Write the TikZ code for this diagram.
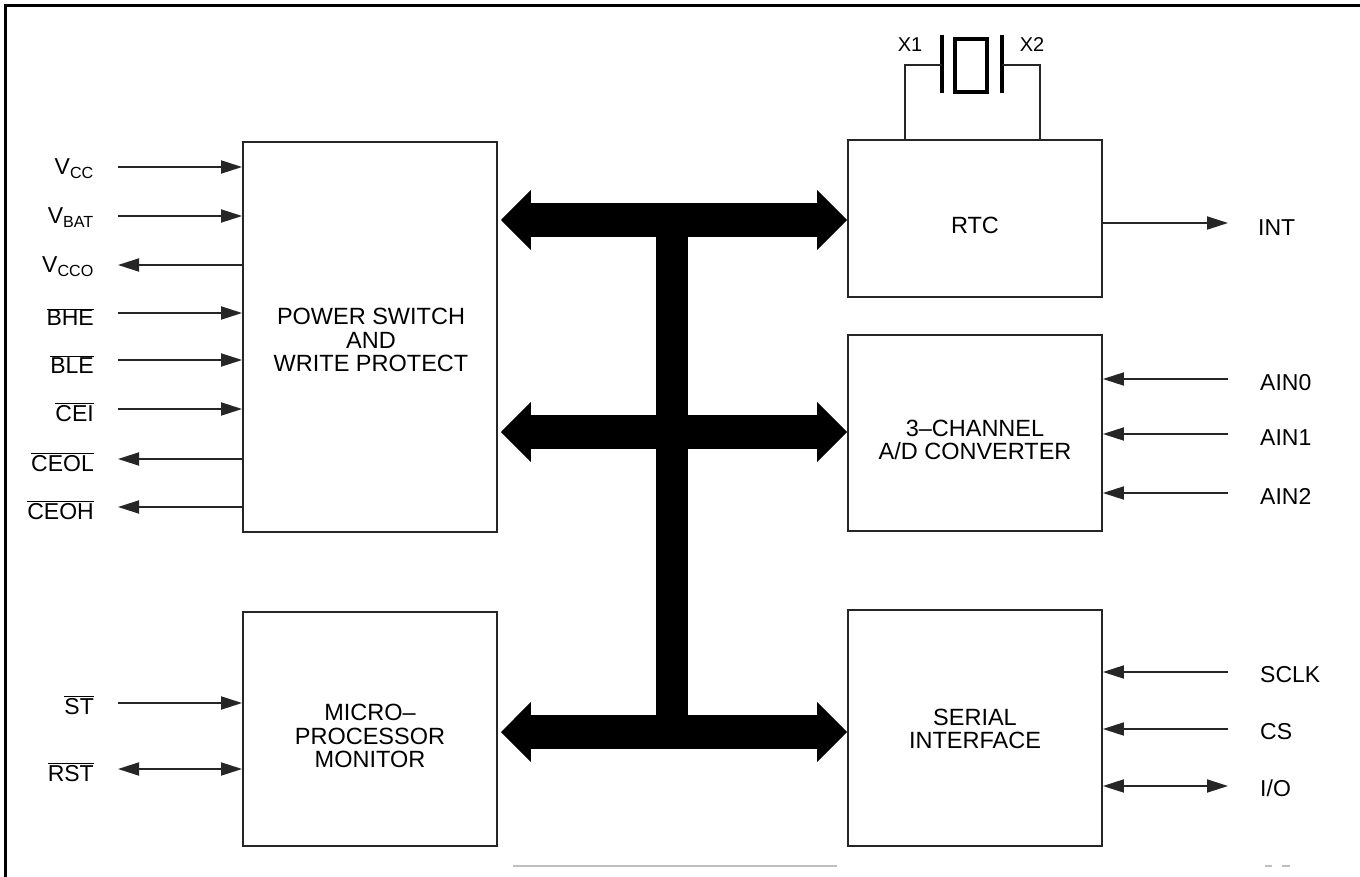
\documentclass[tikz,border=0pt]{standalone}
\usepackage{fontspec}
\setmainfont{Liberation Sans}
\usetikzlibrary{arrows.meta}
\tikzset{
  blk/.style={draw=black!85, line width=1.8pt, minimum width=254pt, inner sep=0pt},
  btxt/.style={inner sep=0pt, align=center, font=\fontsize{23.5}{23.5}\selectfont},
  sig/.style={line width=1.8pt, black!85},
  hd/.style={-{Triangle[length=21pt,width=13pt]}},
  hdd/.style={{Triangle[length=21pt,width=13pt]}-{Triangle[length=21pt,width=13pt]}},
  bus/.style={line width=34pt, {Triangle[length=30pt,width=58pt]}-{Triangle[length=30pt,width=58pt]}},
  lbl/.style={inner sep=0pt, font=\fontsize{23}{24}\selectfont},
  xl/.style={inner sep=0pt, font=\fontsize{20}{20}\selectfont},
}
\newcommand{\ovl}[1]{$\overline{\hbox{#1}}$}
\begin{document}
\begin{tikzpicture}[x=1pt,y=-1pt]
\useasboundingbox (0,0) rectangle (1360,877);
% frame
\draw[line width=3pt] (1360,6) -- (5,6) -- (5,877);
\draw[black!25, line width=2pt] (513,866) -- (837,866);
\draw[black!25, line width=2pt] (1265,866) -- (1272,866) (1282,866) -- (1290,866);

% blocks
\node[blk, minimum height=390pt] (pw) at (370,337) {};
\node[blk, minimum height=234pt] (mon) at (370,729) {};
\node[blk, minimum height=157pt] (rtc) at (975,218.5) {};
\node[blk, minimum height=196pt] (ad) at (975,433) {};
\node[blk, minimum height=236pt] (ser) at (975,728) {};
\node[btxt] (tpw) at (371,340) {POWER SWITCH\\AND\\WRITE PROTECT};
\node[btxt] (tmon) at (370,736) {MICRO--\\PROCESSOR\\MONITOR};
\node[btxt] (trtc) at (975,225) {RTC};
\node[btxt] (tad) at (975,440) {3--CHANNEL\\A/D CONVERTER};
\node[btxt] (tser) at (975,729) {SERIAL\\INTERFACE};

% bus
\coordinate (b1) at (672,220);
\coordinate (b2) at (672,432);
\coordinate (b3) at (672,732);
\draw[line width=32pt] (b1) -- (b3);
\draw[bus] ([xshift=3pt]pw.east |- b1) -- (rtc.west |- b1);
\draw[bus] ([xshift=3pt]pw.east |- b2) -- (ad.west |- b2);
\draw[bus] ([xshift=3pt]mon.east |- b3) -- (ser.west |- b3);

% left signals
\foreach \n/\y in {vcc/167, vbat/216, vcco/265, bhe/313, ble/360, cei/409, ceol/459, ceoh/507, st/703, rst/769}
  \coordinate (\n) at (118,\y);
\draw[sig,hd] (vcc) -- (vcc -| pw.west);
\draw[sig,hd] (vbat) -- (vbat -| pw.west);
\draw[sig,hd] (vcco -| pw.west) -- (vcco);
\draw[sig,hd] (bhe) -- (bhe -| pw.west);
\draw[sig,hd] (ble) -- (ble -| pw.west);
\draw[sig,hd] (cei) -- (cei -| pw.west);
\draw[sig,hd] (ceol -| pw.west) -- (ceol);
\draw[sig,hd] (ceoh -| pw.west) -- (ceoh);
\draw[sig,hd] (st) -- (st -| mon.west);
\draw[sig,hdd] (rst) -- (rst -| mon.west);

\node[lbl, anchor=base east] (lvcc) at (94,175) {V\textsubscript{CC}};
\node[lbl, anchor=base east] (lvbat) at (94,224) {V\textsubscript{BAT}};
\node[lbl, anchor=base east] (lvcco) at (94,273) {V\textsubscript{CCO}};
\node[lbl, anchor=base east] (lbhe) at (94,326) {\ovl{BHE}};
\node[lbl, anchor=base east] (lble) at (94,373) {\ovl{BLE}};
\node[lbl, anchor=base east] (lcei) at (94,421) {\ovl{CEI}};
\node[lbl, anchor=base east] (lceol) at (94,471) {\ovl{CEOL}};
\node[lbl, anchor=base east] (lceoh) at (94,519) {\ovl{CEOH}};
\node[lbl, anchor=base east] (lst) at (94,714) {\ovl{ST}};
\node[lbl, anchor=base east] (lrst) at (94,781) {\ovl{RST}};

% right signals
\foreach \n/\y in {int/223, ain0/379, ain1/434, ain2/493, sclk/672, cs/729, io/786}
  \coordinate (\n) at (1228,\y);
\draw[sig,hd] (int -| rtc.east) -- (int);
\draw[sig,hd] (ain0) -- (ain0 -| ad.east);
\draw[sig,hd] (ain1) -- (ain1 -| ad.east);
\draw[sig,hd] (ain2) -- (ain2 -| ad.east);
\draw[sig,hd] (sclk) -- (sclk -| ser.east);
\draw[sig,hd] (cs) -- (cs -| ser.east);
\draw[sig,hdd] (io) -- (io -| ser.east);

\node[lbl, anchor=base west] (lint) at (1258,236) {INT};
\node[lbl, anchor=base west] (lain0) at (1260,390) {AIN0};
\node[lbl, anchor=base west] (lain1) at (1260,445) {AIN1};
\node[lbl, anchor=base west] (lain2) at (1260,504) {AIN2};
\node[lbl, anchor=base west] (lsclk) at (1260,682) {SCLK};
\node[lbl, anchor=base west] (lcs) at (1260,739) {CS};
\node[lbl, anchor=base west] (lio) at (1260,796) {I/O};

% crystal
\coordinate (p1t) at (942,35);
\coordinate (p1b) at (942,93);
\coordinate (p2t) at (1002,35);
\coordinate (p2b) at (1002,93);
\coordinate (w1) at (905,65);
\coordinate (w2) at (1040,65);
\draw[line width=4.5pt] (p1t) -- (p1b);
\draw[line width=4.5pt] (p2t) -- (p2b);
\draw[line width=3.5pt] (955,39) rectangle (987,92);
\draw[sig] (rtc.north -| w1) -- (w1) -- (w1 -| p1t);
\draw[sig] (rtc.north -| w2) -- (w2) -- (w2 -| p2t);
\node[xl] (x1) at (910,45) {X1};
\node[xl] (x2) at (1032,45) {X2};
\end{tikzpicture}
\end{document}
